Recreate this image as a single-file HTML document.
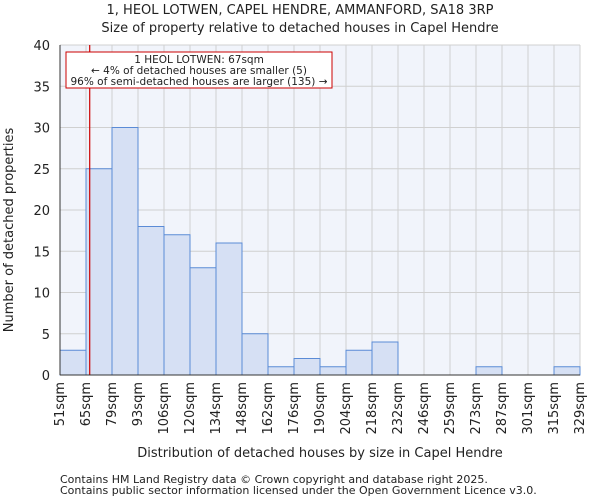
<!DOCTYPE html>
<html><head><meta charset="utf-8"><style>
body{margin:0;background:#fff;font-family:"DejaVu Sans","Liberation Sans",sans-serif;}
svg text{font-family:"DejaVu Sans","Liberation Sans",sans-serif;fill:#222;}
</style></head><body>
<svg id="c" width="600" height="500" xmlns="http://www.w3.org/2000/svg"></svg>
<script>
const edges=[51,65,79,93,106,120,134,148,162,176,190,204,218,232,246,259,273,287,301,315,329];
const counts=[3,25,30,18,17,13,16,5,1,2,1,3,4,0,0,0,1,0,0,1];
const yTicks=[0,5,10,15,20,25,30,35,40];
const propSize=67;
const NS="http://www.w3.org/2000/svg";
const svg=document.getElementById('c');
const L=60,R=580,T=45,B=375,nb=counts.length,bw=(R-L)/nb;
const yS=v=>B-(v/40)*(B-T);
const xI=i=>L+i*bw;
const xV=v=>{for(let i=0;i<nb;i++){if(v>=edges[i]&&v<=edges[i+1])return xI(i)+(v-edges[i])/(edges[i+1]-edges[i])*bw;}return L;};
function mk(t,a,txt){const e=document.createElementNS(NS,t);for(const k in a)e.setAttribute(k,a[k]);if(txt!==undefined)e.textContent=txt;svg.appendChild(e);return e;}
let bg=mk('rect',{x:L,y:T,width:R-L,height:B-T,fill:'#f1f4fb'});


for(let i=0;i<=nb;i++){const g=mk('line',{x1:xI(i),x2:xI(i),y1:T,y2:B,stroke:'#d0d0d0','stroke-width':1});

}
yTicks.forEach(v=>{const g=mk('line',{x1:L,x2:R,y1:yS(v),y2:yS(v),stroke:'#d0d0d0','stroke-width':1});


const t=mk('text',{x:L-10,y:yS(v)+5,'text-anchor':'end','font-size':13},String(v));

});
counts.forEach((c,i)=>{if(c<=0)return;const r=mk('rect',{x:xI(i),y:yS(c),width:bw,height:B-yS(c),fill:'#d6e0f4',stroke:'#5b8bd6','stroke-width':1});

});
edges.forEach((e,i)=>{const x=xI(i)+4;const t=mk('text',{x:x,y:382,'text-anchor':'end','font-size':13,transform:`rotate(-90 ${x} 382)`},e+'sqm');

});
const px=xV(propSize);
const pl=mk('line',{x1:px,x2:px,y1:T,y2:B,stroke:'#cc0000','stroke-width':1.2});


const box=mk('rect',{x:66,y:52,width:266,height:36,fill:'#fff',stroke:'#cc0000','stroke-width':1});


[['1 HEOL LOTWEN: 67sqm',63],['← 4% of detached houses are smaller (5)',74],['96% of semi-detached houses are larger (135) →',85]].forEach(a=>{const t=mk('text',{x:199,y:a[1],'text-anchor':'middle','font-size':10.5},a[0]);

});
const ax=mk('line',{x1:L,x2:L,y1:T,y2:B,stroke:'#333'});
const ax2=mk('line',{x1:L,x2:R,y1:B,y2:B,stroke:'#333'});
const t1=mk('text',{x:300,y:14,'text-anchor':'middle','font-size':13},'1, HEOL LOTWEN, CAPEL HENDRE, AMMANFORD, SA18 3RP');

const t2=mk('text',{x:300,y:32,'text-anchor':'middle','font-size':13},'Size of property relative to detached houses in Capel Hendre');

const xt=mk('text',{x:320,y:457,'text-anchor':'middle','font-size':13},'Distribution of detached houses by size in Capel Hendre');

const yt=mk('text',{x:13,y:230,'text-anchor':'middle','font-size':13,transform:'rotate(-90 13 230)'},'Number of detached properties');

const f1=mk('text',{x:60,y:483,'font-size':11,fill:'#444'},'Contains HM Land Registry data © Crown copyright and database right 2025.');

const f2=mk('text',{x:60,y:494,'font-size':11,fill:'#444'},'Contains public sector information licensed under the Open Government Licence v3.0.');

</script>
</body></html>
